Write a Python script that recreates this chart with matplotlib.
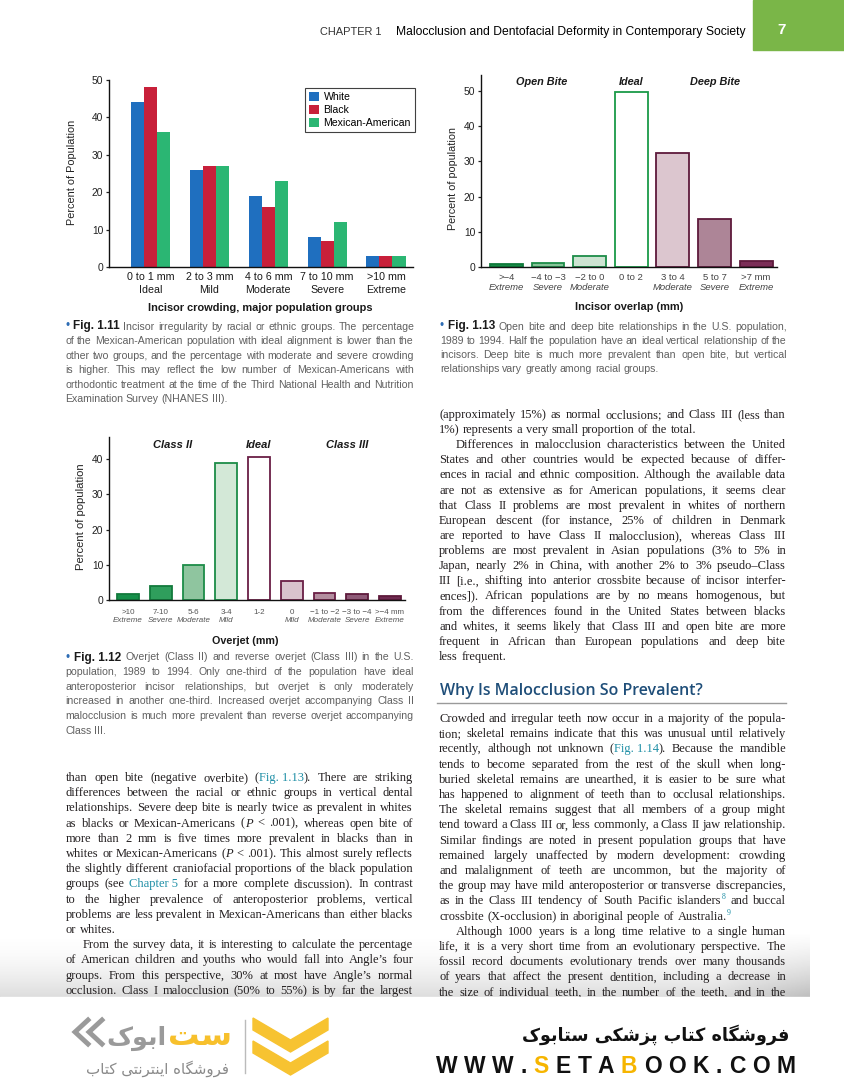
import re
import numpy as np
import matplotlib
matplotlib.use('Agg')
import matplotlib.pyplot as plt
import matplotlib.transforms as mtransforms
from matplotlib.patches import Rectangle, Polygon

# ---- chart data ----
crowd_range = ['0 to 1 mm', '2 to 3 mm', '4 to 6 mm', '7 to 10 mm', '>10 mm']
crowd_grade = ['Ideal', 'Mild', 'Moderate', 'Severe', 'Extreme']
crowd_white = [44, 26, 19, 8, 3]
crowd_black = [48, 27, 16, 7, 3]
crowd_mex = [36, 27, 23, 12, 3]

overlap_mm = ['>\u22124', '\u22124 to \u22123', '\u22122 to 0', '0 to 2', '3 to 4', '5 to 7', '>7 mm']
overlap_grade = ['Extreme', 'Severe', 'Moderate', '', 'Moderate', 'Severe', 'Extreme']
overlap_pct = [0.8, 1.2, 3.1, 49.7, 32.4, 13.6, 1.7]
overlap_fill = ['#178a45', '#86c398', '#cde4d2', '#ffffff', '#dcc6cf', '#ad8597', '#7b2e57']
overlap_edge = ['#0f7a3a', '#1c8c48', '#1c8c48', '#1a9a48', '#5e1a3c', '#5e1a3c', '#5e1a3c']

overjet_mm = ['>10', '7-10', '5-6', '3-4', '1-2', '0', '\u22121 to \u22122', '\u22123 to \u22124', '>\u22124 mm']
overjet_grade = ['Extreme', 'Severe', 'Moderate', 'Mild', '', 'Mild', 'Moderate', 'Severe', 'Extreme']
overjet_pct = [1.7, 4.0, 9.9, 39.0, 40.6, 5.4, 1.9, 1.6, 1.2]
overjet_fill = ['#16904a', '#2f9e5c', '#8fc59f', '#d3e8d7', '#ffffff', '#d9c3cd', '#b38e9f', '#8e5a77', '#6e2a50']
overjet_edge = ['#127a3c', '#127a3c', '#1c8c48', '#1c8c48', '#6a1f45', '#6a1f45', '#6a1f45', '#5e1a3c', '#5e1a3c']

C_WHITE, C_BLACK, C_MEX = '#1f6fbf', '#c8203a', '#2bb673'
LINK = '#1f8fa6'
BULLET = '#2d6cb4'

# ---- page text ----
cap11 = [
    "{u:\u2022} {b:Fig.\u00a01.11}  Incisor irregularity by racial or ethnic groups. The percentage",
    "of the Mexican-American population with ideal alignment is lower than the",
    "other two groups, and the percentage with moderate and severe crowding",
    "is higher. This may reflect the low number of Mexican-Americans with",
    "orthodontic treatment at the time of the Third National Health and Nutrition",
    "Examination Survey (NHANES III).~",
]
cap13 = [
    "{u:\u2022} {b:Fig.\u00a01.13}  Open bite and deep bite relationships in the U.S. population,",
    "1989 to 1994. Half the population have an ideal vertical relationship of the",
    "incisors. Deep bite is much more prevalent than open bite, but vertical",
    "relationships vary greatly among racial groups.~",
]
cap12 = [
    "{u:\u2022} {b:Fig.\u00a01.12}  Overjet (Class II) and reverse overjet (Class III) in the U.S.",
    "population, 1989 to 1994. Only one-third of the population have ideal",
    "anteroposterior incisor relationships, but overjet is only moderately",
    "increased in another one-third. Increased overjet accompanying Class II",
    "malocclusion is much more prevalent than reverse overjet accompanying",
    "Class III.~",
]
body_left = [
    "than open bite (negative overbite) ({l:Fig.\u00a01.13}). There are striking",
    "differences between the racial or ethnic groups in vertical dental",
    "relationships. Severe deep bite is nearly twice as prevalent in whites",
    "as blacks or Mexican-Americans ({i:P} < .001), whereas open bite of",
    "more than 2 mm is five times more prevalent in blacks than in",
    "whites or Mexican-Americans ({i:P} < .001). This almost surely reflects",
    "the slightly different craniofacial proportions of the black population",
    "groups (see {l:Chapter\u00a05} for a more complete discussion). In contrast",
    "to the higher prevalence of anteroposterior problems, vertical",
    "problems are less prevalent in Mexican-Americans than either blacks",
    "or whites.~",
    "^From the survey data, it is interesting to calculate the percentage",
    "of American children and youths who would fall into Angle\u2019s four",
    "groups. From this perspective, 30% at most have Angle\u2019s normal",
    "occlusion. Class I malocclusion (50% to 55%) is by far the largest",
]
body_right_top = [
    "(approximately 15%) as normal occlusions; and Class III (less than",
    "1%) represents a very small proportion of the total.~",
    "^Differences in malocclusion characteristics between the United",
    "States and other countries would be expected because of differ-",
    "ences in racial and ethnic composition. Although the available data",
    "are not as extensive as for American populations, it seems clear",
    "that Class II problems are most prevalent in whites of northern",
    "European descent (for instance, 25% of children in Denmark",
    "are reported to have Class II malocclusion), whereas Class III",
    "problems are most prevalent in Asian populations (3% to 5% in",
    "Japan, nearly 2% in China, with another 2% to 3% pseudo\u2013Class",
    "III [i.e., shifting into anterior crossbite because of incisor interfer-",
    "ences]). African populations are by no means homogenous, but",
    "from the differences found in the United States between blacks",
    "and whites, it seems likely that Class III and open bite are more",
    "frequent in African than European populations and deep bite",
    "less frequent.~",
]
heading = "Why Is Malocclusion So Prevalent?"
body_right_low = [
    "Crowded and irregular teeth now occur in a majority of the popula-",
    "tion; skeletal remains indicate that this was unusual until relatively",
    "recently, although not unknown ({l:Fig.\u00a01.14}). Because the mandible",
    "tends to become separated from the rest of the skull when long-",
    "buried skeletal remains are unearthed, it is easier to be sure what",
    "has happened to alignment of teeth than to occlusal relationships.",
    "The skeletal remains suggest that all members of a group might",
    "tend toward a Class III or, less commonly, a Class II jaw relationship.",
    "Similar findings are noted in present population groups that have",
    "remained largely unaffected by modern development: crowding",
    "and malalignment of teeth are uncommon, but the majority of",
    "the group may have mild anteroposterior or transverse discrepancies,",
    "as in the Class III tendency of South Pacific islanders{s:8} and buccal",
    "crossbite (X-occlusion) in aboriginal people of Australia.{s:9}~",
    "^Although 1000 years is a long time relative to a single human",
    "life, it is a very short time from an evolutionary perspective. The",
    "fossil record documents evolutionary trends over many thousands",
    "of years that affect the present dentition, including a decrease in",
    "the size of individual teeth, in the number of the teeth, and in the",
]

plt.rcParams['font.family'] = ['Liberation Sans', 'DejaVu Sans']

W, H = 844, 1080
fig = plt.figure(figsize=(W / 100, H / 100), dpi=100, facecolor='white')
rend = fig.canvas.get_renderer()

# full-page overlay in pixel units
pg = fig.add_axes([0, 0, 1, 1])
pg.set_facecolor('none')
pg.axis('off')


def fit(t, width):
    w = t.get_window_extent(rend).width
    t.set_fontsize(t.get_fontsize() * width / w)
    return t


def vlabel(x, y, s, length, size=8):
    t = fit(pg.text(x, y, s, ha='center', va='center', fontsize=size, color='#222222'), length)
    t.set_rotation(90)
    return t


def parse(line):
    runs = []
    for m in re.finditer(r'\{(\w):([^}]*)\}|([^{]+)', line):
        if m.group(3) is not None:
            runs.append((m.group(3), 'n'))
        else:
            runs.append((m.group(2), m.group(1)))
    words = [[]]
    for txt, st in runs:
        for k, part in enumerate(txt.split(' ')):
            if k > 0:
                words.append([])
            if part:
                words[-1].append((part, st))
    return [w for w in words if w]


def text_line(x0, x1, yb, line, size, family, color, justify=True):
    words = parse(line)
    items, widths = [], []
    for w in words:
        runs, acc = [], 0.0
        for txt, st in w:
            kw = dict(fontsize=size, family=family, color=color)
            dy = 0
            if st == 'b':
                kw.update(fontweight='bold', color='#1a1a1a', fontsize=size * 1.12)
            elif st == 'u':
                kw.update(color=BULLET, fontsize=size * 1.1)
            elif st == 'l':
                kw.update(color=LINK)
            elif st == 'i':
                kw.update(fontstyle='italic')
            elif st == 's':
                kw.update(color=LINK, fontsize=size * 0.62)
                dy = -size * 0.55
            t = pg.text(0, yb + dy, txt, ha='left', va='baseline', **kw)
            wd = t.get_window_extent(rend).width
            runs.append([t, acc])
            acc += wd
        items.append(runs)
        widths.append(acc)
    em = size * 100 / 72
    n = len(words)
    avail = x1 - x0
    total = sum(widths)
    min_gap = 0.18 * em
    if n > 1 and total + min_gap * (n - 1) > avail:
        s = (avail - min_gap * (n - 1)) / total
        for runs in items:
            for r in runs:
                r[0].set_fontsize(r[0].get_fontsize() * s)
                r[1] *= s
        widths = [w * s for w in widths]
        total = sum(widths)
    gap = (avail - total) / (n - 1) if (justify and n > 1) else 0.27 * em
    x = x0
    for runs, wd in zip(items, widths):
        for t, off in runs:
            t.set_x(x + off)
        x += wd + gap


def block(lines, x0, x1, y0, step, size, family, color, base, indent=17):
    for k, raw in enumerate(lines):
        ind = raw.startswith('^')
        last = raw.endswith('~')
        s = raw.strip('^~')
        text_line(x0 + (indent if ind else 0), x1, y0 + k * step + base, s,
                  size, family, color, justify=not last)


def px_axes(l, t, r, b):
    ax = fig.add_axes([l / W, 1 - b / H, (r - l) / W, (b - t) / H])
    ax.set_facecolor('none')
    for s in ('top', 'right'):
        ax.spines[s].set_visible(False)
    for s in ('left', 'bottom'):
        ax.spines[s].set_linewidth(1.0)
        ax.spines[s].set_color('#111111')
    ax.tick_params(axis='y', length=2.5, width=0.9, labelsize=7.4, pad=1.5,
                   colors='#222222')
    ax.set_xticks([])
    return ax


def two_line_ticks(ax, first, second, dy1, dy2, size, color, italic2):
    t1 = mtransforms.offset_copy(ax.get_xaxis_transform(), fig=fig, y=-dy1, units='dots')
    t2 = mtransforms.offset_copy(ax.get_xaxis_transform(), fig=fig, y=-dy2, units='dots')
    for i, (a, b) in enumerate(zip(first, second)):
        ax.text(i, 0, a, transform=t1, ha='center', va='center', fontsize=size, color=color)
        if b:
            ax.text(i, 0, b, transform=t2, ha='center', va='center', fontsize=size,
                    color=color, fontstyle='italic' if italic2 else 'normal')


# ---- Fig 1.11 ----
ax1 = px_axes(109, 80, 413, 267)
x = np.arange(len(crowd_range))
bw = 0.222
ax1.bar(x - bw, crowd_white, bw, color=C_WHITE, label='White')
ax1.bar(x, crowd_black, bw, color=C_BLACK, label='Black')
ax1.bar(x + bw, crowd_mex, bw, color=C_MEX, label='Mexican-American')
ax1.set_xlim(-0.71, 4.46)
ax1.set_ylim(0, 50)
ax1.set_yticks(range(0, 51, 10))
two_line_ticks(ax1, crowd_range, crowd_grade, 10, 23, 7.7, '#1a1a1a', False)
leg = ax1.legend(loc='upper left', bbox_to_anchor=(305 / W, 1 - 88 / H),
                 bbox_transform=fig.transFigure, frameon=True, fancybox=False,
                 edgecolor='#111111', fontsize=7.6, handlelength=1.0, handleheight=1.0,
                 handletextpad=0.4, borderpad=0.35, labelspacing=0.25, borderaxespad=0)
leg.get_frame().set_linewidth(0.8)
fit(pg.text(260, 308, 'Incisor crowding, major population groups', ha='center',
            va='center', fontweight='bold', fontsize=7, color='#1a1a1a'), 223)
vlabel(72, 172, 'Percent of Population', 105)

# ---- Fig 1.13 ----
ax2 = px_axes(481, 75, 777, 267)
x2 = np.arange(len(overlap_pct))
ax2.bar(x2, overlap_pct, 0.79, color=overlap_fill, edgecolor=overlap_edge, linewidth=1.3)
ax2.set_xlim(-0.61, 6.5)
ax2.set_ylim(0, 54.5)
ax2.set_yticks(range(0, 51, 10))
two_line_ticks(ax2, overlap_mm, overlap_grade, 10, 20, 6.8, '#444444', True)
tt = fit(ax2.text(5, 52.6, 'Deep Bite', ha='center', va='center', fontsize=7,
                  fontweight='bold', fontstyle='italic', color='#1a1a1a'), 50)
for lbl, xp in (('Open Bite', 0.85), ('Ideal', 3)):
    ax2.text(xp, 52.6, lbl, ha='center', va='center', fontsize=tt.get_fontsize(),
             fontweight='bold', fontstyle='italic', color='#1a1a1a')
fit(pg.text(629, 307, 'Incisor overlap (mm)', ha='center', va='center',
            fontweight='bold', fontsize=7, color='#1a1a1a'), 108)
vlabel(453, 178, 'Percent of population', 103)

# ---- Fig 1.12 ----
ax3 = px_axes(109, 437, 405, 600)
x3 = np.arange(len(overjet_pct))
ax3.bar(x3, overjet_pct, 0.66, color=overjet_fill, edgecolor=overjet_edge, linewidth=1.3)
ax3.set_xlim(-0.58, 8.46)
ax3.set_ylim(0, 46.3)
ax3.set_yticks(range(0, 41, 10))
two_line_ticks(ax3, overjet_mm, overjet_grade, 12, 21, 5.8, '#555555', True)
tt = fit(ax3.text(6.7, 44, 'Class III', ha='center', va='center', fontsize=7,
                  fontweight='bold', fontstyle='italic', color='#1a1a1a'), 42)
for lbl, xp in (('Class II', 1.35), ('Ideal', 4)):
    ax3.text(xp, 44, lbl, ha='center', va='center', fontsize=tt.get_fontsize(),
             fontweight='bold', fontstyle='italic', color='#1a1a1a')
fit(pg.text(245, 641, 'Overjet (mm)', ha='center', va='center',
            fontweight='bold', fontsize=7, color='#1a1a1a'), 67)
vlabel(81, 517, 'Percent of population', 107)

# ---- header ----
pg.add_patch(Rectangle((753, 0), 91, 50, color='#7ab648', zorder=2))
pg.text(782, 30, '7', ha='center', va='center', fontsize=11, fontweight='bold', color='white')
fit(pg.text(382, 35, 'CHAPTER 1', ha='right', va='baseline', fontsize=9, color='#333333'), 62)
fit(pg.text(746, 35, 'Malocclusion and Dentofacial Deformity in Contemporary Society',
            ha='right', va='baseline', fontsize=9, color='#000000'), 351)

# ---- captions and body ----
SANS = ['Liberation Sans', 'DejaVu Sans']
SERIF = ['Liberation Serif', 'DejaVu Serif']
block(cap11, 65, 414, 327, 14.6, 7.6, SANS, '#606060', 2.5)
block(cap13, 440, 787, 327, 14.2, 7.6, SANS, '#606060', 2.5)
block(cap12, 65, 414, 658, 14.6, 7.6, SANS, '#606060', 2.5)

block(body_left, 66, 413, 778, 15.2, 9.0, SERIF, '#231f20', 3)
block(body_right_top, 439, 786, 415, 15.12, 9.0, SERIF, '#231f20', 3)
fit(pg.text(440, 695, heading, ha='left', va='baseline', fontsize=11,
            family=['Open Sans', 'DejaVu Sans'], fontweight='semibold', color='#1f4e79'), 263)
pg.plot([437, 786], [703, 703], color='#9a9a9a', lw=1)
block(body_right_low, 439, 786, 719, 15.2, 9.0, SERIF, '#231f20', 3)

# page shadow near the bottom
gh, gw = 70, 200
yy = np.linspace(0, 1, gh)[:, None]
xx = np.linspace(0, 1, gw)[None, :]
alpha = 0.24 * yy ** 1.8 + 0.22 * np.clip((xx - 0.88) / 0.12, 0, 1) * yy
rgba = np.zeros((gh, gw, 4))
rgba[..., :3] = 0.45
rgba[..., 3] = np.clip(alpha, 0, 1)
pg.imshow(rgba, extent=(0, 810, 997, 932), aspect='auto', zorder=1, interpolation='bilinear')
pg.add_patch(Rectangle((0, 997), W, H - 997, color='white', zorder=5))

# ---- footer (Persian shop banner) ----
FORMS = {
    '\u0627': ('\uFE8D', '\uFE8E', None, None),
    '\u0628': ('\uFE8F', '\uFE90', '\uFE91', '\uFE92'),
    '\u067E': ('\uFB56', '\uFB57', '\uFB58', '\uFB59'),
    '\u062A': ('\uFE95', '\uFE96', '\uFE97', '\uFE98'),
    '\u0631': ('\uFEAD', '\uFEAE', None, None),
    '\u0632': ('\uFEAF', '\uFEB0', None, None),
    '\u0633': ('\uFEB1', '\uFEB2', '\uFEB3', '\uFEB4'),
    '\u0634': ('\uFEB5', '\uFEB6', '\uFEB7', '\uFEB8'),
    '\u0641': ('\uFED1', '\uFED2', '\uFED3', '\uFED4'),
    '\u06A9': ('\uFB8E', '\uFB8F', '\uFB90', '\uFB91'),
    '\u06AF': ('\uFB92', '\uFB93', '\uFB94', '\uFB95'),
    '\u0646': ('\uFEE5', '\uFEE6', '\uFEE7', '\uFEE8'),
    '\u0647': ('\uFEE9', '\uFEEA', '\uFEEB', '\uFEEC'),
    '\u0648': ('\uFEED', '\uFEEE', None, None),
    '\u06CC': ('\uFBFC', '\uFBFD', '\uFBFE', '\uFBFF'),
}


def shape(s):
    # contextual forms + visual (left-to-right) order
    out = []
    for i, ch in enumerate(s):
        f = FORMS.get(ch)
        if f is None:
            out.append(ch)
            continue
        prev = s[i - 1] if i > 0 else ''
        nxt = s[i + 1] if i + 1 < len(s) else ''
        jp = prev in FORMS and FORMS[prev][2] is not None
        jn = f[2] is not None and nxt in FORMS
        out.append(f[3] if (jp and jn) else f[1] if jp else f[2] if jn else f[0])
    return ''.join(reversed(out))


FA = ['DejaVu Sans']
shop_title = 'فروشگاه کتاب پزشکی ستابوک'
shop_sub = 'فروشگاه اینترنتی کتاب'
logo_word = 'ستابوک'
url = 'WWW.SETABOOK.COM'

fit(pg.text(789, 1041, shape(shop_title), ha='right', va='baseline', family=FA,
            fontweight='bold', fontsize=15, color='#111111', zorder=6), 268)

objs = [pg.text(0, 1073, c, fontsize=16.5, fontweight='bold', color='#111111', zorder=6,
                ha='left', va='baseline') for c in url]
ws = [o.get_window_extent(rend).width for o in objs]
gap = (795 - 436 - sum(ws)) / (len(url) - 1)
xc = 436
for k, (o, w) in enumerate(zip(objs, ws)):
    o.set_x(xc)
    if k in (4, 8):
        o.set_color('#f6b500')
    xc += w + gap

# left logo
fit(pg.text(232, 1045, shape(logo_word[:2]), ha='right', va='baseline', family=FA,
            fontweight='bold', fontsize=20, color='#f7c02c', zorder=6), 64)
fit(pg.text(167, 1045, shape(logo_word[2:]), ha='right', va='baseline', family=FA,
            fontweight='bold', fontsize=20, color='#9a9a9a', zorder=6), 60)
for xo in (0, 14):
    pg.plot([88 + xo, 75 + xo, 88 + xo], [1020, 1032, 1044], color='#9a9a9a', lw=3.5,
            solid_joinstyle='miter', zorder=6)
fit(pg.text(229, 1074, shape(shop_sub), ha='right', va='baseline', family=FA,
            fontsize=8, color='#8a8a8a', zorder=6), 143)
pg.plot([245, 245], [1020, 1073], color='#bbbbbb', lw=1, zorder=6)
for y0 in (1018, 1041):
    pg.add_patch(Polygon([(253, y0), (290.5, y0 + 22), (328, y0), (328, y0 + 12),
                          (290.5, y0 + 34), (253, y0 + 12)], closed=True,
                         color='#f7c331', zorder=6))

pg.set_xlim(0, W)
pg.set_ylim(H, 0)

plt.savefig('out.png', dpi=100, facecolor='white')
